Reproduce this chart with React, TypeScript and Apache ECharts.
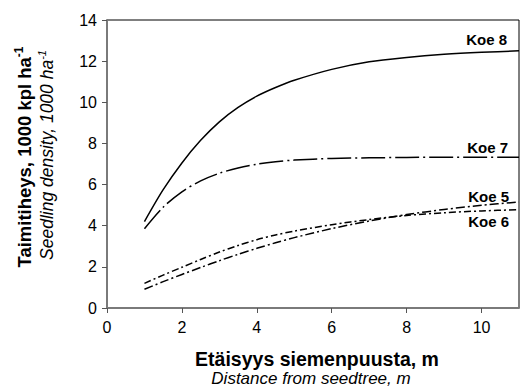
import React, { useEffect, useRef } from "react";
import * as echarts from "echarts";

const distances = [1, 1.5, 2, 2.5, 3, 3.5, 4, 4.5, 5, 6, 7, 8, 9, 10, 11];
const koe8 = [4.2, 5.75, 7.05, 8.15, 9.05, 9.75, 10.3, 10.72, 11.07, 11.6, 11.97, 12.18, 12.33, 12.43, 12.5];
const koe7 = [3.85, 4.9, 5.65, 6.18, 6.55, 6.81, 6.99, 7.11, 7.19, 7.27, 7.3, 7.32, 7.33, 7.33, 7.33];
const koe5 = [0.91, 1.28, 1.63, 1.97, 2.3, 2.61, 2.9, 3.17, 3.42, 3.86, 4.23, 4.54, 4.79, 4.99, 5.15];
const koe6 = [1.2, 1.6, 1.98, 2.36, 2.72, 3.04, 3.32, 3.55, 3.74, 4.05, 4.3, 4.5, 4.63, 4.72, 4.78];
const seriesNames = ["Koe 8", "Koe 7", "Koe 5", "Koe 6"];

const FONT = "'Liberation Sans', Arial, sans-serif";

function pairs(ys: number[]) {
  return distances.map((x, i) => [x, ys[i]]);
}

export default function App() {
  const ref = useRef<HTMLDivElement>(null);
  useEffect(() => {
    if (!ref.current) return;
    const chart = echarts.init(ref.current, null, { renderer: "svg" });
    const endLabel = (name: string, dx: number, dy: number) => ({
      show: true,
      formatter: name,
      fontFamily: FONT,
      fontWeight: "bold",
      fontSize: 15,
      color: "#000",
      align: "right",
      verticalAlign: "middle",
      distance: 0,
      offset: [dx, dy],
    });
    const lineBase = (name: string, ys: number[], type: any, lbl: any) => ({
      name,
      type: "line",
      data: pairs(ys),
      smooth: 0.3,
      showSymbol: false,
      symbol: "none",
      lineStyle: { color: "#000", width: 1.5, type },
      endLabel: lbl,
      silent: true,
    });
    chart.setOption({
      animation: false,
      grid: {
        left: 107,
        top: 20,
        right: 1,
        bottom: 81,
        show: true,
        borderColor: "#000",
        borderWidth: 1,
        backgroundColor: "transparent",
      },
      xAxis: {
        type: "value",
        min: 0,
        max: 11,
        interval: 2,
        splitLine: { show: false },
        axisLine: { show: true, lineStyle: { color: "#7a7a7a", width: 2 } },
        axisTick: { show: true, inside: false, length: 5, lineStyle: { color: "#555", width: 1 } },
        axisLabel: {
          showMaxLabel: false,
          margin: 11,
          fontFamily: FONT,
          fontSize: 16,
          color: "#000",
        },
      },
      yAxis: {
        type: "value",
        min: 0,
        max: 14,
        interval: 2,
        splitLine: { show: false },
        axisLine: { show: true, lineStyle: { color: "#7a7a7a", width: 2 } },
        axisTick: { show: true, inside: false, length: 5, lineStyle: { color: "#555", width: 1 } },
        axisLabel: {
          margin: 10,
          fontFamily: FONT,
          fontSize: 16,
          color: "#000",
        },
      },
      series: [
        lineBase(seriesNames[0], koe8, "solid", endLabel(seriesNames[0], -12, -11)),
        lineBase(seriesNames[1], koe7, [24, 4, 2, 4], endLabel(seriesNames[1], -11, -10)),
        lineBase(seriesNames[2], koe5, [9, 3, 2, 3], endLabel(seriesNames[2], -10, -6)),
        lineBase(seriesNames[3], koe6, [7, 3, 2, 3], endLabel(seriesNames[3], -10, 12)),
      ],
      graphic: [
        {
          type: "text",
          x: 317,
          y: 359,
          style: {
            text: "Etäisyys siemenpuusta, m",
            font: `bold 19.5px ${FONT}`,
            fill: "#000",
            align: "center",
            verticalAlign: "middle",
          },
        },
        {
          type: "text",
          x: 311,
          y: 370,
          style: {
            text: "Distance from seedtree, m",
            font: `italic 17px ${FONT}`,
            fill: "#000",
            align: "center",
            verticalAlign: "top",
          },
        },
        {
          type: "text",
          x: 24,
          y: 157,
          rotation: Math.PI / 2,
          style: {
            text: "{m|Taimitiheys, 1000 kpl ha}{s|-1}",
            align: "center",
            verticalAlign: "middle",
            rich: {
              m: { font: `bold 18.5px ${FONT}`, fill: "#000", lineHeight: 22 } as any,
              s: { font: `bold 12px ${FONT}`, fill: "#000", verticalAlign: "top", lineHeight: 22 } as any,
            },
          },
        },
        {
          type: "text",
          x: 47,
          y: 155,
          rotation: Math.PI / 2,
          style: {
            text: "{m|Seedling density, 1000 ha}{s|-1}",
            align: "center",
            verticalAlign: "middle",
            rich: {
              m: { font: `italic 17.5px ${FONT}`, fill: "#000", lineHeight: 21 } as any,
              s: { font: `italic 11px ${FONT}`, fill: "#000", verticalAlign: "top", lineHeight: 21 } as any,
            },
          },
        },
      ],
    });
    return () => chart.dispose();
  }, []);
  return (
    <div
      ref={ref}
      style={{ position: "fixed", left: 0, top: 0, width: 520, height: 389, background: "#fff" }}
    />
  );
}
